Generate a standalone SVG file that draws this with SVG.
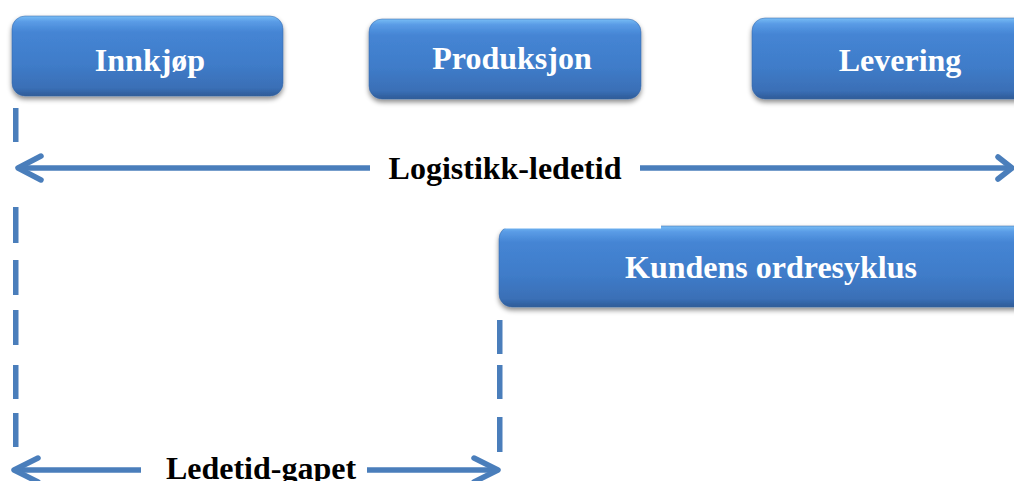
<svg xmlns="http://www.w3.org/2000/svg" width="1014" height="481" viewBox="0 0 1014 481">
  <style>
    .box { fill: url(#boxFill); filter: url(#shadow); stroke: #3565a6; stroke-opacity: 0.5; stroke-width: 1; }
    .boxText { font-family: "Liberation Serif", "Times New Roman", serif; font-weight: bold; font-size: 32px; fill: #ffffff; text-anchor: middle; }
    .label { font-family: "Liberation Serif", "Times New Roman", serif; font-weight: bold; font-size: 32px; fill: #000000; text-anchor: middle; }
    .line { stroke: #4a7ebb; stroke-width: 5.5; fill: none; }
    .head { stroke: #4a7ebb; stroke-width: 5.5; fill: none; stroke-linecap: round; stroke-linejoin: round; }
    .dash { fill: #4a7ebb; }
  </style>
  <defs>
    <linearGradient id="boxFill" x1="0" y1="0" x2="0" y2="1">
      <stop offset="0" stop-color="#79bdf5"/>
      <stop offset="0.07" stop-color="#5a9ce6"/>
      <stop offset="0.2" stop-color="#4585d4"/>
      <stop offset="0.6" stop-color="#3f7cc9"/>
      <stop offset="0.9" stop-color="#3a6fb6"/>
      <stop offset="1" stop-color="#2e5b97"/>
    </linearGradient>
    <filter id="shadow" x="-10%" y="-20%" width="120%" height="150%">
      <feGaussianBlur in="SourceAlpha" stdDeviation="2.5"/>
      <feOffset dx="0" dy="3" result="blur"/>
      <feFlood flood-color="#000000" flood-opacity="0.45"/>
      <feComposite in2="blur" operator="in"/>
      <feMerge>
        <feMergeNode/>
        <feMergeNode in="SourceGraphic"/>
      </feMerge>
    </filter>
  </defs>

  <rect width="1014" height="481" fill="#ffffff"/>

  <!-- process steps -->
  <g id="innkjop">
    <rect class="box" x="12" y="16" width="271" height="80" rx="13"/>
    <text class="boxText" x="150" y="71">Innkjøp</text>
  </g>
  <g id="produksjon">
    <rect class="box" x="369" y="19" width="272" height="80" rx="13"/>
    <text class="boxText" x="512" y="69">Produksjon</text>
  </g>
  <g id="levering">
    <rect class="box" x="752" y="18" width="290" height="81" rx="13"/>
    <text class="boxText" x="900" y="71">Levering</text>
  </g>
  <g id="kundens-ordresyklus">
    <rect class="box" x="499" y="226" width="545" height="81" rx="13"/>
    <rect x="490" y="214" width="171" height="14.5" fill="#ffffff"/>
    <text class="boxText" x="771" y="278">Kundens ordresyklus</text>
  </g>

  <!-- lead-time markers and arrows -->
  <g id="connectors">
    <!-- dashed boundary at the start of purchasing -->
    <rect class="dash" x="13" y="108" width="5.5" height="34"/>
    <rect class="dash" x="13" y="207" width="5.5" height="36"/>
    <rect class="dash" x="13" y="260" width="5.5" height="35"/>
    <rect class="dash" x="13" y="310" width="5.5" height="35"/>
    <rect class="dash" x="13" y="365" width="5.5" height="34"/>
    <rect class="dash" x="13" y="413" width="5.5" height="34"/>
    <!-- dashed boundary at the start of the customer order cycle -->
    <rect class="dash" x="497" y="320" width="5.5" height="34"/>
    <rect class="dash" x="497" y="365" width="5.5" height="34"/>
    <rect class="dash" x="497" y="417" width="5.5" height="35"/>

    <!-- logistics lead time -->
    <line class="line" x1="19" y1="168" x2="370" y2="168"/>
    <polyline class="head" points="41,156 18,168 41,180"/>
    <line class="line" x1="640" y1="168" x2="1010" y2="168"/>
    <polyline class="head" points="998,157 1012,168 998,179"/>

    <!-- lead time gap -->
    <line class="line" x1="15" y1="470" x2="141" y2="470"/>
    <polyline class="head" points="38,458 14,470 38,482"/>
    <line class="line" x1="367" y1="470" x2="496" y2="470"/>
    <polyline class="head" points="474,458 498,470 474,482"/>
  </g>

  <g id="labels">
    <text class="label" x="505" y="179">Logistikk-ledetid</text>
    <text class="label" x="261" y="479">Ledetid-gapet</text>
  </g>
</svg>
